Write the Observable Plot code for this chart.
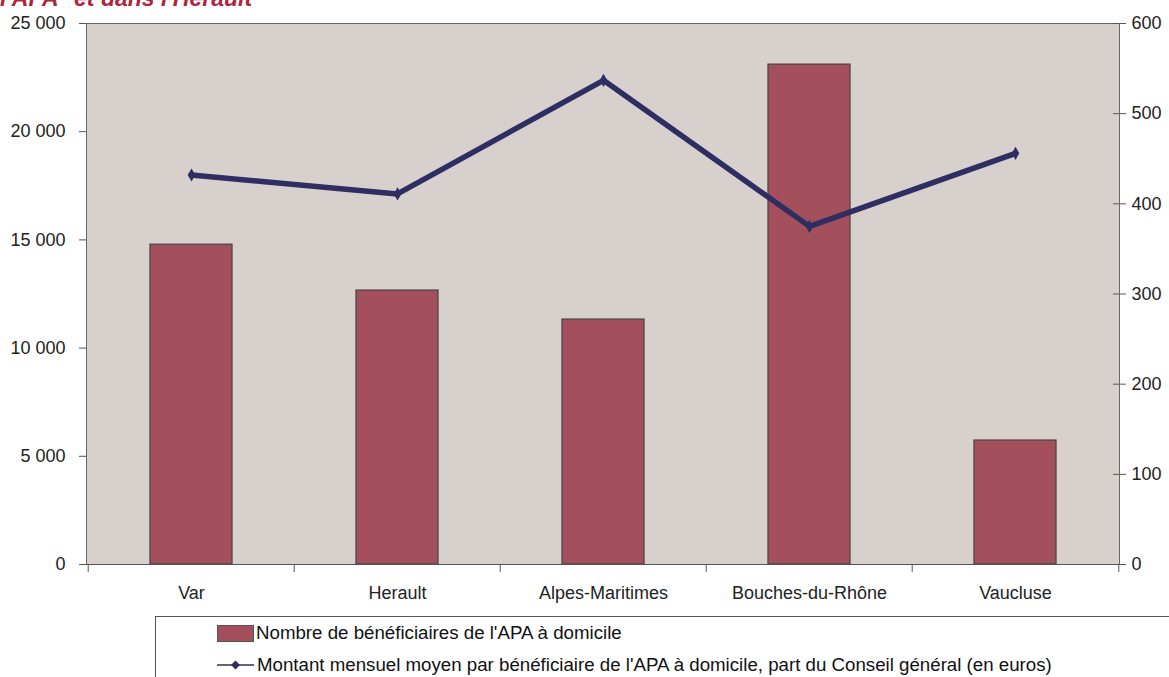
<!DOCTYPE html>
<html>
<head>
<meta charset="utf-8">
<script src="https://cdn.jsdelivr.net/npm/d3@7"></script>
<script src="https://cdn.jsdelivr.net/npm/@observablehq/plot@0.6"></script>
<style>
  body { margin: 0; background: #fff; font-family: "Liberation Sans", Arial, sans-serif; }
  #wrap { position: relative; width: 1169px; height: 677px; overflow: hidden; }
  #title { position: absolute; left: 0; top: -15px; color: #B0243F; font-style: italic; font-weight: bold; font-size: 23px; white-space: nowrap; }
  #chart { position: absolute; left: 0; top: 0; }
  #legend { position: absolute; left: 155px; top: 616px; width: 1030px; height: 80px; border: 1px solid #555; box-sizing: border-box; font-size: 18.7px; color: #111; }
  .item { position: absolute; left: 61px; display: flex; align-items: center; white-space: nowrap; }
  .sw { width: 35px; height: 15px; background: #A4505C; border: 1px solid #555; margin-right: 2px; }
</style>
</head>
<body>
<div id="wrap">
  <div id="title">l'APA* et dans l'Hérault</div>
  <div id="chart"></div>
  <div id="legend">
    <div class="item" style="top:5px"><div class="sw"></div><span>Nombre de bénéficiaires de l'APA à domicile</span></div>
    <div class="item" style="top:37px"><svg width="38" height="16" style="margin-right:2px"><line x1="0" y1="8" x2="37" y2="8" stroke="#2E2E62" stroke-width="1.5"/><path d="M18.5 3.5 L23 8 L18.5 12.5 L14 8 Z" fill="#2E2E62"/></svg><span>Montant mensuel moyen par bénéficiaire de l'APA à domicile, part du Conseil général (en euros)</span></div>
  </div>
</div>
<script>
const categories = ["Var", "Herault", "Alpes-Maritimes", "Bouches-du-Rhône", "Vaucluse"];
const beneficiaires = [14780, 12660, 11320, 23100, 5730];
const montant = [432, 411, 537, 375, 456];
const leftTicks = [0, 5000, 10000, 15000, 20000, 25000];
const rightTicks = [0, 100, 200, 300, 400, 500, 600];

const W = 1169, H = 612, ML = 86, MR = 50, MT = 23, MB = 48;
const leftMax = 25000, rightMax = 600;
const k = leftMax / rightMax;
const plotW = W - ML - MR;
const bw = plotW / categories.length;

const bars = categories.map((c, i) => ({cat: c, value: beneficiaires[i]}));
const line = categories.map((c, i) => ({cat: c, value: montant[i]}));
const fmt = d => d3.format(",")(d).replace(/,/g, " ");

const chart = Plot.plot({
  width: W, height: H,
  marginLeft: ML, marginRight: MR, marginTop: MT, marginBottom: MB,
  style: {fontFamily: "'Liberation Sans', Arial, sans-serif", fontSize: "18px", color: "#222", background: "transparent"},
  x: {domain: categories, padding: 0, paddingInner: 0, paddingOuter: 0, axis: null, label: null},
  y: {domain: [0, leftMax], axis: null, label: null},
  marks: [
    Plot.frame({fill: "#D7D0CD", stroke: "#666"}),
    Plot.barY(bars, {x: "cat", y: "value", fill: "#A4505C", stroke: "#444", strokeWidth: 1.2, insetLeft: bw * 0.3, insetRight: bw * 0.3}),
    Plot.line(line, {x: "cat", y: d => d.value * k, stroke: "#2E2E62", strokeWidth: 5.5, strokeLinejoin: "miter"}),
    Plot.dot(line, {x: "cat", y: d => d.value * k, symbol: "diamond", r: 4, fill: "#2E2E62"}),
    Plot.axisY(leftTicks, {anchor: "left", label: null, tickSize: 7, tickPadding: 14, tickFormat: fmt, stroke: "#555", fill: "#222"}),
    Plot.axisY(rightTicks.map(d => d * k), {anchor: "right", label: null, tickSize: 6, tickPadding: 6, tickFormat: d => fmt(Math.round(d / k)), stroke: "#555", fill: "#222"}),
    Plot.ruleY(rightTicks.map(d => d * k), {insetLeft: plotW - 6, stroke: "#555"}),
    Plot.axisX({anchor: "bottom", label: null, tickSize: 0, tickPadding: 22, fill: "#222"}),
    Plot.ruleX(categories, {x: d => d, dx: -bw / 2, y1: 0, y2: 0, insetBottom: -8, stroke: "#555"}),
    Plot.ruleX([categories[categories.length - 1]], {x: d => d, dx: bw / 2, y1: 0, y2: 0, insetBottom: -8, stroke: "#555"}),
    Plot.ruleY([0], {stroke: "#555", strokeWidth: 1.2})
  ]
});
document.getElementById("chart").appendChild(chart);
</script>
</body>
</html>
